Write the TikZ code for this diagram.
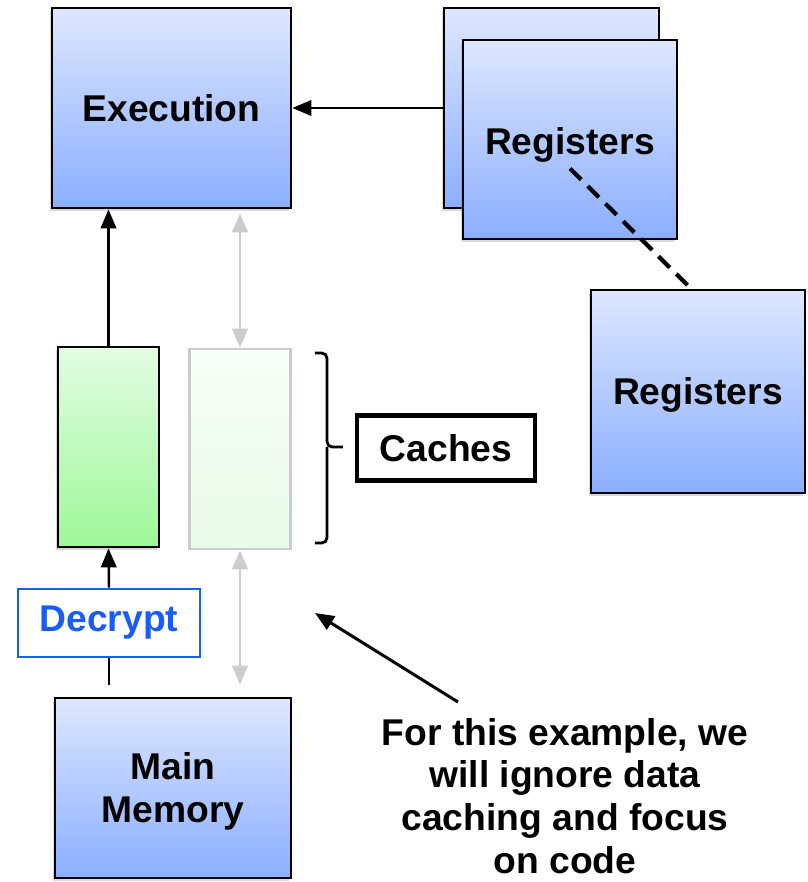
\documentclass[tikz,border=0pt]{standalone}
\usepackage{fontspec}
\setmainfont{Liberation Sans}
\usetikzlibrary{arrows.meta, shadows}
\definecolor{blutop}{HTML}{DDE7FF}
\definecolor{blubot}{HTML}{8BAEFF}
\definecolor{grntop}{HTML}{E2FCE2}
\definecolor{grnbot}{HTML}{9FF79A}
\definecolor{fadetop}{HTML}{F8FEF8}
\definecolor{fadebot}{HTML}{E8FBE8}
\definecolor{fadeline}{HTML}{CCCCCC}
\definecolor{decblue}{HTML}{1A5CFA}

\begin{document}
\begin{tikzpicture}[font=\fontsize{10.6}{12.2}\selectfont\bfseries,
    >={Triangle[length=5.4pt,width=4.4pt]},
    boxshadow/.style={drop shadow={shadow xshift=-0.6pt, shadow yshift=-0.9pt, opacity=0.3}},
    blubox/.style={draw, line width=0.8pt, top color=blutop, bottom color=blubot,
                   boxshadow, align=center, inner sep=0pt},
    cachebox/.style={draw, line width=0.8pt, minimum width=1.01cm, minimum height=2cm, inner sep=0pt},
    link/.style={line width=0.7pt, ->},
    greylink/.style={line width=0.8pt, <->, color=fadeline}]
    \useasboundingbox (0,0) rectangle (8.07,-8.82);

    % processor side
    \node[blubox, minimum width=2.39cm, minimum height=2cm] (exec) at (1.715,-1.08) {Execution};
    \node[blubox, minimum width=2.15cm, minimum height=2cm] (reg1) at (5.515,-1.08) {};
    \node[blubox, minimum width=2.14cm, minimum height=1.99cm, text height=1.07em, text depth=0.21em] (reg2) at (5.70,-1.395) {Registers};
    \node[blubox, minimum width=2.14cm, minimum height=2.03cm, text height=0.95em, text depth=0.21em] (reg3) at (6.98,-3.915) {Registers};

    % the two caches
    \node[cachebox, top color=grntop, bottom color=grnbot, boxshadow] (cache1) at (1.085,-4.47) {};
    \node[cachebox, draw=fadeline, top color=fadetop, bottom color=fadebot] (cache2) at (2.40,-4.49) {};
    \node[draw, line width=1.3pt, minimum width=1.78cm, minimum height=0.65cm] (caches) at (4.46,-4.48) {Caches};

    \node[draw=decblue, text=decblue, line width=0.8pt, minimum width=1.82cm, minimum height=0.68cm] (dec) at (1.09,-6.23) {Decrypt};
    \node[blubox, minimum width=2.36cm, minimum height=1.8cm] (mem) at (1.73,-7.88)
        {\raisebox{-1.3pt}[\height][\depth]{\begin{tabular}{@{}c@{}}Main\\Memory\end{tabular}}};

    \node[align=center] (note) at (5.65,-7.96) {For this example, we\\ will ignore data\\ caching and focus\\ on code};
    \coordinate (tail) at (4.58,-7.02);
    \coordinate (tip) at (3.15,-6.13);

    % connectors
    \draw[link] (reg1) -- (exec);
    \draw[link] (cache1.north) -- (cache1.north |- exec.south);
    \draw[link] (dec.north) -- (cache1.south);
    \draw[line width=0.7pt, shorten >=0.12cm] (dec.south) -- (dec.south |- mem.north);
    \draw[greylink, shorten <=0.04cm] (exec.south -| cache2.north) -- (cache2.north);
    \draw[greylink, shorten >=0.12cm] (cache2.south) -- (cache2.south |- mem.north);
    \draw[line width=1.2pt, dash pattern=on 4.5pt off 2.6pt] ([yshift=-0.29cm]reg2.center) -- ([xshift=-0.07cm]reg3.north);
    \draw[line width=0.85pt, ->] (tail) -- (tip);

    % bracket round the caches
    \draw[line width=0.8pt, rounded corners=1.5pt] (3.15,-3.53) -| (3.27,-4.47) -- (3.43,-4.47);
    \draw[line width=0.8pt, rounded corners=1.5pt] (3.27,-4.47) |- (3.15,-5.43);
\end{tikzpicture}
\end{document}
